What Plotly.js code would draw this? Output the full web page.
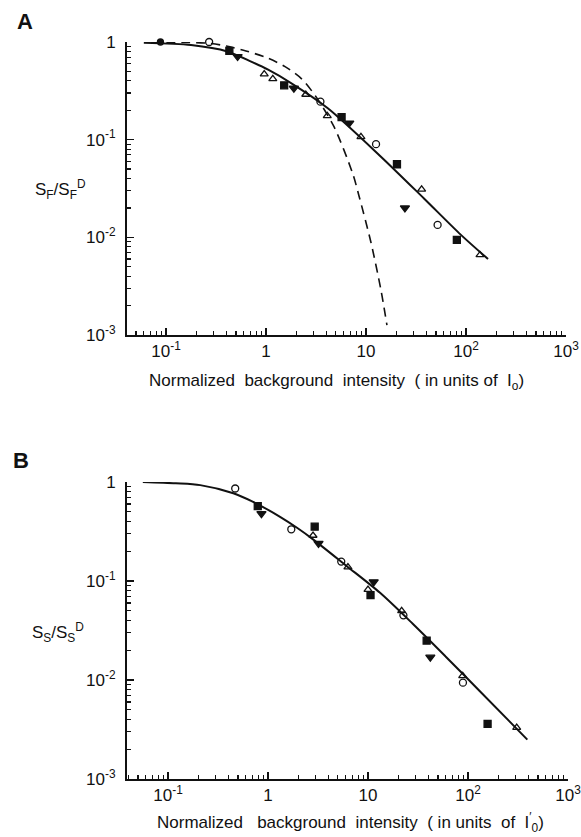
<!DOCTYPE html>
<html>
<head>
<meta charset="utf-8">
<script src="https://cdn.plot.ly/plotly-3.0.1.min.js"></script>
<style>
  html, body { margin: 0; padding: 0; background: #fff; }
  #fig { width: 581px; height: 837px; }
</style>
</head>
<body>
<div id="fig"></div>
<script>
// ---- Panel A: flash sensitivity vs background ----
const aFilledCircleX = [0.088];
const aFilledCircleY = [1.0];
const aOpenCircleX = [0.27, 3.5, 12.6, 52];
const aOpenCircleY = [1.0, 0.245, 0.09, 0.0134];
const aSquareX = [0.43, 1.52, 5.7, 20.4, 81];
const aSquareY = [0.81, 0.36, 0.17, 0.056, 0.0094];
const aTriDownX = [0.52, 1.9, 6.8, 24.5];
const aTriDownY = [0.71, 0.336, 0.148, 0.020];
const aTriUpX = [0.96, 1.17, 2.5, 4.1, 8.9, 36, 138];
const aTriUpY = [0.47, 0.42, 0.29, 0.175, 0.107, 0.031, 0.0066];
// fitted curves
const aSolidX = [0.06, 0.178, 0.41, 0.71, 1.05, 1.78, 4.15, 14.1, 38, 89, 166];
const aSolidY = [0.98, 0.93, 0.80, 0.63, 0.52, 0.38, 0.21, 0.067, 0.025, 0.0106, 0.006];
const aDashX = [0.071, 0.147, 0.27, 0.40, 0.63, 1.02, 1.55, 2.27, 3.16, 4.8, 7.36, 8.5, 11.2, 14.1, 16.2];
const aDashY = [0.99, 0.99, 0.97, 0.91, 0.81, 0.69, 0.56, 0.42, 0.275, 0.135, 0.045, 0.0267, 0.0089, 0.0029, 0.00126];

// ---- Panel B ----
const bOpenCircleX = [0.47, 1.71, 5.4, 22.6, 89];
const bOpenCircleY = [0.86, 0.333, 0.157, 0.045, 0.0094];
const bSquareX = [0.79, 2.93, 10.6, 38.6, 157];
const bSquareY = [0.57, 0.354, 0.072, 0.025, 0.0036];
const bTriDownX = [0.86, 3.2, 11.4, 42];
const bTriDownY = [0.48, 0.24, 0.098, 0.017];
const bTriUpX = [2.82, 6.3, 10, 21.7, 88.5, 307];
const bTriUpY = [0.288, 0.138, 0.082, 0.050, 0.011, 0.0033];
const bSolidX = [0.056, 0.12, 0.21, 0.45, 0.71, 1.32, 1.95, 2.8, 6.1, 13.2, 28, 60, 130, 392];
const bSolidY = [1.0, 0.97, 0.93, 0.77, 0.63, 0.445, 0.345, 0.265, 0.142, 0.076, 0.037, 0.0172, 0.0078, 0.0025];

// ---- axis ticks ----
const xTickVals = [0.1, 1, 10, 100, 1000];
const xTickText = ['10<sup>-1</sup>', '1', '10', '10<sup>2</sup>', '10<sup>3</sup>'];
const yTickVals = [1, 0.1, 0.01, 0.001];
const yTickText = ['1', '10<sup>-1</sup>', '10<sup>-2</sup>', '10<sup>-3</sup>'];

const INK = '#111';
const FONT = 'Liberation Sans, Arial, sans-serif';

// 2..9 within each decade, for the short tick marks
function minorTicks(lo, hi) {
  const out = [];
  for (let d = lo; d < hi; d++) {
    for (let k = 2; k <= 9; k++) out.push(k * Math.pow(10, d));
  }
  return out;
}
const xMinor = minorTicks(-2, 3);
const yMinor = minorTicks(-3, 0);

function pts(x, y, xa, ya, symbol, size) {
  return {
    x, y, xaxis: xa, yaxis: ya, type: 'scatter', mode: 'markers',
    marker: { symbol, size, color: INK, line: { color: INK, width: 1.3 } },
    cliponaxis: false, hoverinfo: 'skip'
  };
}
function curve(x, y, xa, ya, dash, width) {
  return {
    x, y, xaxis: xa, yaxis: ya, type: 'scatter', mode: 'lines',
    line: { color: INK, width, dash, shape: 'spline', smoothing: 0.8 },
    hoverinfo: 'skip'
  };
}
function empty(xa, ya) {
  return { x: [], y: [], xaxis: xa, yaxis: ya, type: 'scatter', mode: 'markers', hoverinfo: 'skip' };
}

const data = [
  curve(aSolidX, aSolidY, 'x', 'y', 'solid', 2),
  curve(aDashX, aDashY, 'x', 'y', '9px,6px', 1.6),
  pts(aFilledCircleX, aFilledCircleY, 'x', 'y', 'circle', 6),
  pts(aOpenCircleX, aOpenCircleY, 'x', 'y', 'circle-open', 7),
  pts(aSquareX, aSquareY, 'x', 'y', 'square', 7),
  pts(aTriDownX, aTriDownY, 'x', 'y', 'triangle-down', 8),
  pts(aTriUpX, aTriUpY, 'x', 'y', 'triangle-up-open', 7),

  curve(bSolidX, bSolidY, 'x2', 'y2', 'solid', 2),
  pts(bOpenCircleX, bOpenCircleY, 'x2', 'y2', 'circle-open', 7),
  pts(bSquareX, bSquareY, 'x2', 'y2', 'square', 7),
  pts(bTriDownX, bTriDownY, 'x2', 'y2', 'triangle-down', 8),
  pts(bTriUpX, bTriUpY, 'x2', 'y2', 'triangle-up-open', 7),

  empty('x3', 'y3'),
  empty('x4', 'y4')
];

const W = 581, H = 837;

function xAxis(domain, range, anchor) {
  return {
    type: 'log', domain, range, anchor,
    showline: true, linecolor: INK, linewidth: 2,
    ticks: 'inside', ticklen: 7, tickwidth: 1.5, tickcolor: INK,
    tickmode: 'array', tickvals: xTickVals, ticktext: xTickText,
    tickfont: { family: FONT, size: 17, color: INK },
    ticklabeloverflow: 'allow',
    showgrid: false, zeroline: false, fixedrange: true
  };
}
function yAxis(domain, anchor) {
  return {
    type: 'log', domain, range: [-3, 0], anchor,
    showline: true, linecolor: INK, linewidth: 2,
    ticks: 'inside', ticklen: 7, tickwidth: 1.5, tickcolor: INK,
    tickmode: 'array', tickvals: yTickVals, ticktext: yTickText,
    tickfont: { family: FONT, size: 17, color: INK },
    ticklabelstandoff: 6,
    showgrid: false, zeroline: false, fixedrange: true
  };
}
// overlay axes carrying only the short minor ticks
function xMinorAxis(over, range, anchor) {
  return {
    type: 'log', overlaying: over, range, anchor, side: 'bottom',
    showline: false, ticks: 'inside', ticklen: 4, tickwidth: 1.2, tickcolor: INK,
    tickmode: 'array', tickvals: xMinor, showticklabels: false,
    showgrid: false, zeroline: false, fixedrange: true
  };
}
function yMinorAxis(over, anchor) {
  return {
    type: 'log', overlaying: over, range: [-3, 0], anchor, side: 'left',
    showline: false, ticks: 'inside', ticklen: 4, tickwidth: 1.2, tickcolor: INK,
    tickmode: 'array', tickvals: yMinor, showticklabels: false,
    showgrid: false, zeroline: false, fixedrange: true
  };
}

function txt(text, px, py, size, extra) {
  return Object.assign({
    text, xref: 'paper', yref: 'paper', x: px / W, y: 1 - py / H,
    xanchor: 'center', yanchor: 'middle', showarrow: false,
    font: { family: FONT, size, color: INK }
  }, extra || {});
}

const layout = {
  width: W, height: H,
  margin: { l: 0, r: 0, t: 0, b: 0 },
  paper_bgcolor: '#fff', plot_bgcolor: '#fff',
  showlegend: false,
  xaxis: xAxis([127 / W, 566 / W], [-1.39, 3], 'y'),
  yaxis: yAxis([1 - 335 / H, 1 - 42 / H], 'x'),
  xaxis2: xAxis([127 / W, 568 / W], [-1.41, 3], 'y2'),
  yaxis2: yAxis([1 - 779 / H, 1 - 482 / H], 'x2'),
  xaxis3: xMinorAxis('x', [-1.39, 3], 'y'),
  yaxis3: yMinorAxis('y', 'x'),
  xaxis4: xMinorAxis('x2', [-1.41, 3], 'y2'),
  yaxis4: yMinorAxis('y2', 'x2'),
  annotations: [
    txt('<b>A</b>', 25, 21, 22),
    txt('<b>B</b>', 21, 460, 22),
    txt('S<sub>F</sub>/S<sub>F</sub><sup>D</sup>', 60, 190, 17),
    txt('S<sub>S</sub>/S<sub>S</sub><sup>D</sup>', 58, 632, 17),
    txt('Normalized&nbsp; background&nbsp; intensity&nbsp; ( in units of&nbsp; I<sub>o</sub>)', 337, 382, 17),
    txt('Normalized&nbsp;&nbsp; background&nbsp; intensity&nbsp; ( in units&nbsp; of&nbsp; I<sup>\u2032</sup><sub>0</sub>)', 350, 822, 17)
  ]
};

Plotly.newPlot('fig', data, layout, { staticPlot: true, displayModeBar: false });
</script>
</body>
</html>
